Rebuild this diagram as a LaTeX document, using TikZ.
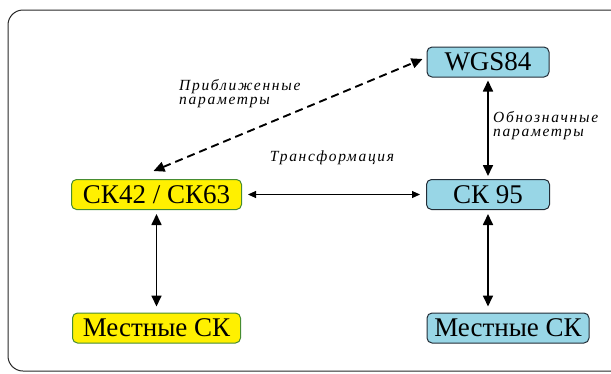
\documentclass[tikz,border=0pt]{standalone}
\usepackage{fontspec}
\setmainfont{Liberation Serif}
\usetikzlibrary{arrows.meta}
\definecolor{boxyellow}{RGB}{255,240,0}
\definecolor{boxgreen}{RGB}{70,140,50}
\definecolor{boxblue}{RGB}{152,214,230}
\definecolor{boxdark}{RGB}{35,45,55}
\definecolor{framecol}{RGB}{40,40,40}
\begin{document}
\begin{tikzpicture}[x=1pt,y=-1pt,
  box/.style={rounded corners=5pt, line width=1pt, minimum height=30pt, inner sep=0pt,
    font=\fontsize{27}{28}\selectfont},
  yelbox/.style={box, fill=boxyellow, draw=boxgreen},
  blubox/.style={box, fill=boxblue, draw=boxdark},
  lbl/.style={font=\fontsize{15.5}{14.5}\selectfont\itshape\addfontfeatures{LetterSpace=11},
    align=left, inner sep=0pt},
  bigarrow/.style={line width=1.7pt, {Triangle[length=11pt,width=10pt]}-{Triangle[length=11pt,width=10pt]}},
  dasharrow/.style={line width=1.9pt, dash pattern=on 8pt off 5pt, {Triangle[length=11pt,width=10pt]}-{Triangle[length=11pt,width=10pt]}},
  thinarrow/.style={line width=1pt, {Triangle[length=8pt,width=7pt]}-{Triangle[length=8pt,width=7pt]}}
]
\useasboundingbox (0,0) rectangle (611,373);
\begin{scope}
\clip (0,0) rectangle (611,373);
\draw[framecol, line width=1pt, rounded corners=15pt] (8,10) rectangle (640,371);
\end{scope}

\node[blubox, minimum width=122pt] (wgs) at (488,62) {WGS84};
\node[yelbox, minimum width=170pt] (ck42) at (156.5,194.5) {СК42 / СК63};
\node[blubox, minimum width=123pt] (ck95) at (488,194.5) {СК 95};
\node[yelbox, minimum width=168pt] (loc1) at (156.5,328) {Местные СК};
\node[blubox, minimum width=162pt] (loc2) at (508,328) {Местные СК};

\node[lbl, anchor=north west] (l1) at (179,79) {Приближенные\\параметры};
\node[lbl] (l2) at (332,158) {Трансформация};
\node[lbl, anchor=north west] (l3) at (493,111) {Обнозначные\\параметры};

\draw[dasharrow] ([xshift=-3pt,yshift=8pt]ck42.north) -- ([xshift=-4pt,yshift=3pt]wgs.west);
\draw[thinarrow, shorten <=6pt, shorten >=6pt] (ck42.east) -- (ck95.west);
\draw[bigarrow, shorten <=3pt, shorten >=3pt] (wgs.south) -- (ck95.north);
\draw[bigarrow, shorten <=4pt, shorten >=6pt] (ck42.south) -- (loc1.north);
\draw[bigarrow, shorten <=4pt, shorten >=6pt] (ck95.south) -- (ck95.south |- loc2.north);
\end{tikzpicture}
\end{document}
